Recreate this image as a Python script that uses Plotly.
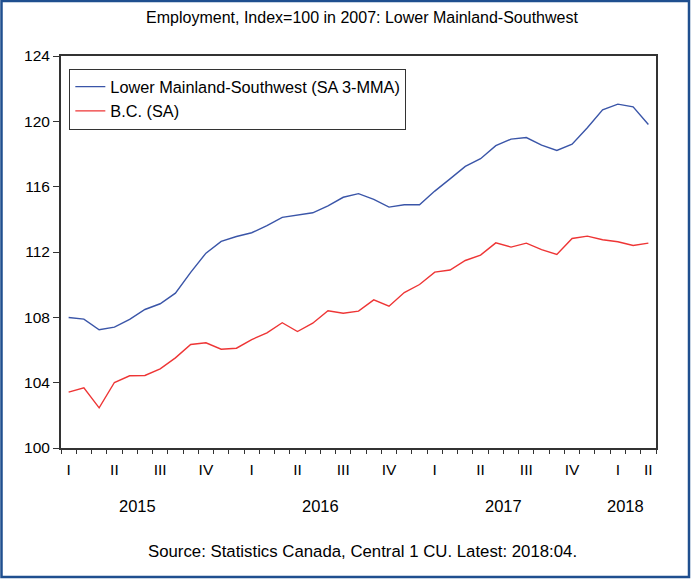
import plotly.graph_objects as go

# ---- data (monthly, Feb 2015 .. Apr 2018) ----
months = [
    "2015-02", "2015-03", "2015-04", "2015-05", "2015-06", "2015-07", "2015-08",
    "2015-09", "2015-10", "2015-11", "2015-12",
    "2016-01", "2016-02", "2016-03", "2016-04", "2016-05", "2016-06", "2016-07",
    "2016-08", "2016-09", "2016-10", "2016-11", "2016-12",
    "2017-01", "2017-02", "2017-03", "2017-04", "2017-05", "2017-06", "2017-07",
    "2017-08", "2017-09", "2017-10", "2017-11", "2017-12",
    "2018-01", "2018-02", "2018-03", "2018-04",
]
lower_mainland = [
    107.99, 107.89, 107.24, 107.40, 107.87, 108.48, 108.83, 109.48, 110.75,
    111.93, 112.65, 112.95, 113.18, 113.61, 114.12, 114.26, 114.40, 114.83,
    115.35, 115.57, 115.22, 114.75, 114.89, 114.89, 115.73, 116.48, 117.24,
    117.71, 118.51, 118.91, 119.01, 118.54, 118.22, 118.60, 119.61, 120.71,
    121.05, 120.89, 119.81,
]
bc = [
    103.42, 103.69, 102.46, 104.01, 104.42, 104.44, 104.85, 105.52, 106.34,
    106.44, 106.05, 106.11, 106.64, 107.05, 107.67, 107.13, 107.64, 108.40,
    108.25, 108.38, 109.07, 108.68, 109.52, 110.01, 110.77, 110.90, 111.48,
    111.81, 112.56, 112.30, 112.54, 112.14, 111.85, 112.83, 112.97, 112.75,
    112.63, 112.40, 112.54,
]
quarter_names = ["I", "II", "III", "IV"]
y_ticks = [100, 104, 108, 112, 116, 120, 124]
series_names = ["Lower Mainland-Southwest (SA 3-MMA)", "B.C. (SA)"]
title_text = "Employment, Index=100 in 2007: Lower Mainland-Southwest"
source_text = "Source: Statistics Canada, Central 1 CU. Latest: 2018:04."

# ---- derived positions ----
n = len(months)
x = list(range(n))
ym = [(int(m[:4]), int(m[5:])) for m in months]
first_abs = ym[0][0] * 12 + ym[0][1] - 1     # absolute month number of idx 0
lo, hi = -0.5, n - 0.5

def abs_idx(i):
    return first_abs + i

quarter_bounds = [i - 0.5 for i in x if ym[i][1] in (1, 4, 7, 10) and i > 0]
minor_bounds = [i - 0.5 for i in range(n + 1)]
q_pos, q_txt, seen = [], [], []
for i in x:
    q = abs_idx(i) // 3
    if q in seen:
        continue
    seen.append(q)
    full_center = q * 3 + 1 - first_abs
    avail = [j for j in x if abs_idx(j) // 3 == q]
    pos = full_center if lo <= full_center <= hi - 0.5 else sum(avail) / len(avail)
    q_pos.append(pos)
    q_txt.append(quarter_names[q % 4])

years = sorted(set(y for y, _ in ym))
yr_pos = []
for yv in years:
    full_center = yv * 12 + 5.5 - first_abs
    avail = [j for j in x if ym[j][0] == yv]
    pos = full_center if lo <= full_center <= hi else sum(avail) / len(avail)
    yr_pos.append(pos)

FONT = "Liberation Sans, Arial, sans-serif"
W, H = 691, 579
ML, MR, MT, MB = 61, 35, 56, 131
PW, PH = W - ML - MR, H - MT - MB

fig = go.Figure()
fig.add_trace(go.Scatter(x=x, y=lower_mainland, mode="lines", name=series_names[0],
                         line=dict(color="#3a55a8", width=1.4)))
fig.add_trace(go.Scatter(x=x, y=bc, mode="lines", name=series_names[1],
                         line=dict(color="#ee3535", width=1.4)))

axis_col = "#333333"
fig.update_layout(
    width=W, height=H,
    margin=dict(l=ML, r=MR, t=MT, b=MB),
    paper_bgcolor="white", plot_bgcolor="white",
    font=dict(family=FONT, size=15, color="black"),
    title=dict(text=title_text, x=(362 - ML) / PW, xref="paper", xanchor="center",
               y=1 - 17 / H, yanchor="middle", font=dict(size=16, color="black")),
    showlegend=True,
    legend=dict(x=0.014, y=0.968, xanchor="left", yanchor="top",
                bgcolor="white", bordercolor=axis_col, borderwidth=1,
                font=dict(size=16.3, color="black"), tracegroupgap=0,
                itemwidth=30),
    xaxis=dict(range=[lo, hi], tickmode="array", tickvals=q_pos, ticktext=q_txt,
               ticks="", showgrid=False, zeroline=False,
               showline=True, mirror=True, linecolor=axis_col, linewidth=2,
               tickfont=dict(size=15.5), ticklabelstandoff=6,
               minor=dict(tickmode="array", tickvals=minor_bounds, ticks="outside",
                          ticklen=4, tickwidth=1, tickcolor=axis_col, showgrid=False)),
    xaxis2=dict(range=[lo, hi], overlaying="x", anchor="y", side="bottom",
                tickmode="array", tickvals=quarter_bounds, ticktext=[""] * len(quarter_bounds),
                ticks="outside", ticklen=7, tickwidth=1.2, tickcolor=axis_col,
                showgrid=False, zeroline=False, showline=False, showticklabels=False),
    yaxis=dict(range=[y_ticks[0], y_ticks[-1]], tickmode="array", tickvals=y_ticks,
               ticks="outside", ticklen=6, tickwidth=1.2, tickcolor=axis_col,
               showgrid=False, zeroline=False, showline=True, mirror=True,
               linecolor=axis_col, linewidth=2, tickfont=dict(size=15.5)),
)

for yv, pos in zip(years, yr_pos):
    fig.add_annotation(x=pos, xref="x", y=(PH - 506 + MT) / PH, yref="paper",
                       text=str(yv), showarrow=False, font=dict(size=16.5),
                       xanchor="center", yanchor="middle")

fig.add_annotation(x=(362 - ML) / PW, xref="paper", y=(MT + PH - 551) / PH, yref="paper",
                   text=source_text, showarrow=False, font=dict(size=16.8),
                   xanchor="center", yanchor="middle")

def px_x(p):
    return (p - ML) / PW

def px_y(p):
    return (MT + PH - p) / PH

# outer blue frame around the whole picture
fig.add_shape(type="rect", xref="paper", yref="paper",
              x0=px_x(1.5), x1=px_x(689), y0=px_y(577), y1=px_y(1),
              line=dict(color="#1f4f8f", width=2.5), fillcolor="rgba(0,0,0,0)",
              layer="below")

fig.write_html("out.html", config={"displayModeBar": False},
               post_script="document.body.style.margin='0px';")
